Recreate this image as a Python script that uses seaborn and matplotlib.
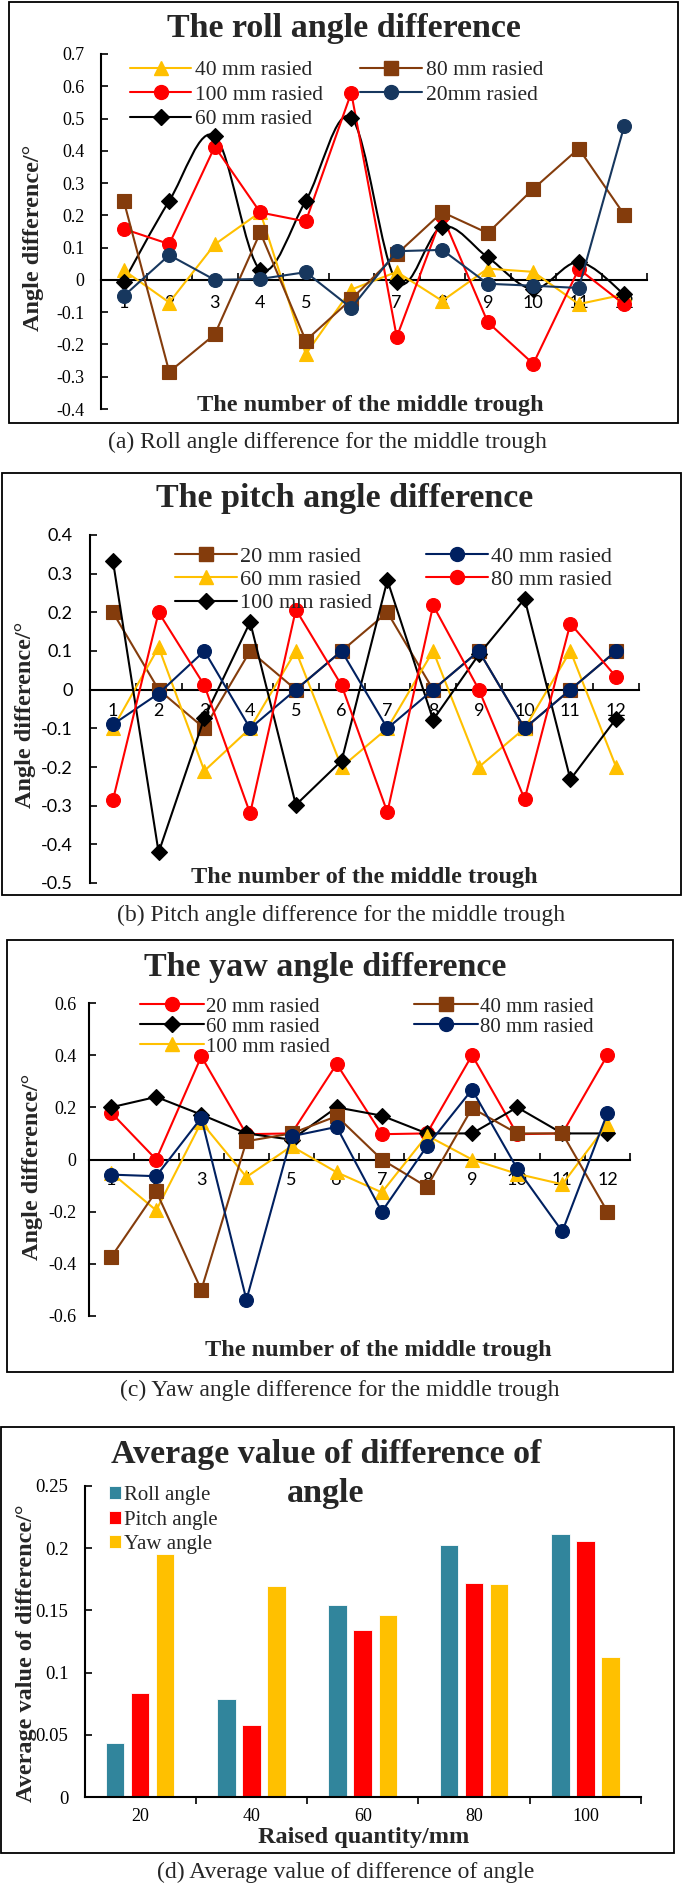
import numpy as np
import pandas as pd
import matplotlib
matplotlib.use("Agg")
import matplotlib.pyplot as plt
from matplotlib.patches import Rectangle, PathPatch
from matplotlib.path import Path
from matplotlib.lines import Line2D
import seaborn as sns

# ---------------- data ----------------
troughs = [1, 2, 3, 4, 5, 6, 7, 8, 9, 10, 11, 12]

# (a) roll angle difference
roll_40 = [0.03, -0.07, 0.11, 0.21, -0.23, -0.03, 0.025, -0.065, 0.035, 0.025, -0.075, -0.045]
roll_80 = [0.245, -0.285, -0.169, 0.147, -0.188, -0.06, 0.08, 0.21, 0.145, 0.282, 0.407, 0.202]
roll_100 = [0.158, 0.111, 0.413, 0.209, 0.181, 0.58, -0.177, 0.199, -0.131, -0.26, 0.034, -0.076]
roll_20 = [-0.05, 0.077, 0.0, 0.003, 0.024, -0.087, 0.089, 0.093, -0.012, -0.018, -0.025, 0.477]
roll_60 = [-0.005, 0.245, 0.446, 0.032, 0.245, 0.503, -0.005, 0.165, 0.07, -0.028, 0.055, -0.045]

# (b) pitch angle difference
pitch_20 = [0.2, 0.0, -0.1, 0.1, 0.0, 0.1, 0.2, 0.0, 0.1, -0.1, 0.0, 0.1]
pitch_40 = [-0.09, -0.01, 0.1, -0.1, 0.0, 0.1, -0.1, 0.0, 0.1, -0.1, 0.0, 0.1]
pitch_60 = [-0.1, 0.11, -0.21, -0.1, 0.1, -0.2, -0.1, 0.1, -0.2, -0.1, 0.1, -0.2]
pitch_80 = [-0.286, 0.2, 0.011, -0.32, 0.207, 0.011, -0.317, 0.218, 0.0, -0.283, 0.171, 0.033]
pitch_100 = [0.334, -0.421, -0.073, 0.175, -0.298, -0.184, 0.283, -0.078, 0.091, 0.235, -0.232, -0.075]

# (c) yaw angle difference
yaw_20 = [0.18, 0.0, 0.395, 0.097, 0.1, 0.366, 0.097, 0.1, 0.4, 0.097, 0.1, 0.4]
yaw_40 = [-0.375, -0.122, -0.5, 0.07, 0.1, 0.166, 0.0, -0.105, 0.197, 0.1, 0.1, -0.2]
yaw_60 = [0.2, 0.24, 0.172, 0.1, 0.076, 0.2, 0.168, 0.1, 0.1, 0.2, 0.1, 0.1]
yaw_80 = [-0.058, -0.064, 0.16, -0.538, 0.089, 0.125, -0.2, 0.051, 0.268, -0.035, -0.276, 0.178]
yaw_100 = [-0.05, -0.195, 0.143, -0.067, 0.051, -0.049, -0.126, 0.092, 0.0, -0.055, -0.095, 0.136]

# (d) average values
raised = ["20", "40", "60", "80", "100"]
avg_roll = [0.0431, 0.0785, 0.1545, 0.2027, 0.2115]
avg_pitch = [0.0835, 0.0582, 0.1345, 0.172, 0.206]
avg_yaw = [0.195, 0.170, 0.1465, 0.171, 0.1125]
angle_names = ["Roll angle", "Pitch angle", "Yaw angle"]

roll_ticks = [0.7, 0.6, 0.5, 0.4, 0.3, 0.2, 0.1, 0, -0.1, -0.2, -0.3, -0.4]
pitch_ticks = [0.4, 0.3, 0.2, 0.1, 0, -0.1, -0.2, -0.3, -0.4, -0.5]
yaw_ticks = [0.6, 0.4, 0.2, 0, -0.2, -0.4, -0.6]
avg_ticks = [0, 0.05, 0.1, 0.15, 0.2, 0.25]

# ---------------- style ----------------
YELLOW = "#FFC000"
BROWN = "#843C0C"
RED = "#FF0000"
NAVY = "#002060"
SLATE = "#17375E"
BLACK = "#000000"
TEAL = "#31859C"

sns.set_theme(style="white")
SERIF = ["Liberation Serif", "DejaVu Serif"]
SANS = ["Lato", "DejaVu Sans"]
plt.rcParams["font.family"] = SERIF
plt.rcParams["axes.axisbelow"] = True

TITLE_FS = 24.5
LABEL_FS = 17.5

W, H = 685, 1888
fig = plt.figure(figsize=(W / 100, H / 100), dpi=100)


def axes_px(left, top, right, bottom):
    return fig.add_axes([left / W, 1 - bottom / H, (right - left) / W, (bottom - top) / H])


def frame_px(x0, y0, x1, y1):
    fig.add_artist(Rectangle((x0 / W, 1 - y1 / H), (x1 - x0) / W, (y1 - y0) / H,
                             transform=fig.transFigure, fill=False, ec="black", lw=1.3))


def caption_px(cx, cy, text):
    fig.text(cx / W, 1 - cy / H, text, ha="center", va="center", family=SERIF, fontsize=17)


def fmt(v):
    v = round(v, 3) + 0.0
    return f"{v:g}"


def smooth_path(xs, ys):
    pts = np.column_stack([xs, ys]).astype(float)
    n = len(pts)
    verts = [pts[0]]
    codes = [Path.MOVETO]
    for i in range(n - 1):
        p0 = pts[max(i - 1, 0)]
        p1 = pts[i]
        p2 = pts[i + 1]
        p3 = pts[min(i + 2, n - 1)]
        verts += [p1 + (p2 - p0) / 6.0, p2 - (p3 - p1) / 6.0, p2]
        codes += [Path.CURVE4] * 3
    return Path(verts, codes)


def line_panel(ax, series, ylim, yticks, ypad, xpad, title, tx, ty,
               xl_xy, yl_xy, leg):
    lw = 1.5
    handles, labels = [], []
    for label, vals, color, marker, ms, smooth in series:
        sns.lineplot(x=troughs, y=vals, ax=ax, color=color, marker=marker,
                     markersize=ms, markeredgecolor=color, markeredgewidth=0.8,
                     linewidth=0 if smooth else lw, zorder=2)
        if smooth:
            ax.add_patch(PathPatch(smooth_path(troughs, vals), fill=False,
                                   edgecolor=color, lw=lw, zorder=1.9))
        handles.append(Line2D([0], [0], color=color, lw=lw, marker=marker,
                              markersize=ms, markeredgecolor=color))
        labels.append(label)
    ax.set_xlim(0.5, 12.5)
    ax.set_ylim(*ylim)
    for s in ("top", "right"):
        ax.spines[s].set_visible(False)
    ax.spines["bottom"].set_position(("data", 0))
    for s in ("left", "bottom"):
        ax.spines[s].set_color("black")
        ax.spines[s].set_linewidth(1.5)
        ax.spines[s].set_zorder(1)
    ax.set_xticks(troughs, labels=[str(t) for t in troughs], family=SANS, fontsize=13)
    ax.set_xticks(np.arange(0.5, 13.0, 1.0), minor=True)
    ax.tick_params(axis="x", which="major", length=0, pad=xpad, colors="black")
    ax.tick_params(axis="x", which="minor", direction="in", length=5, width=1.2,
                   color="black", bottom=True)
    ax.set_yticks(yticks, labels=[fmt(v) for v in yticks], family=leg["yfont"], fontsize=13)
    ax.tick_params(axis="y", which="major", direction="in", length=5, width=1.2,
                   pad=ypad, colors="black", left=True)
    ax.set_title(title, x=tx, y=ty, pad=0, fontsize=TITLE_FS, fontweight="bold",
                 family=SERIF, va="center", ha="center")
    ax.set_xlabel("The number of the middle trough", fontsize=LABEL_FS, fontweight="bold",
                  family=SERIF)
    ax.xaxis.set_label_coords(*xl_xy)
    ax.xaxis.label.set_va("center")
    ax.set_ylabel("Angle difference/°", fontsize=LABEL_FS, fontweight="bold", family=SERIF)
    ax.yaxis.set_label_coords(*yl_xy)
    ax.yaxis.label.set_va("center")
    ax.legend(handles, labels, ncol=2, loc="upper left", bbox_to_anchor=leg["anchor"],
              frameon=False, borderpad=0, borderaxespad=0,
              handlelength=leg["hl"], handletextpad=leg["htp"],
              columnspacing=leg["cs"], labelspacing=leg["ls"],
              prop={"family": SERIF, "size": leg["size"]})


# ---------------- (a) roll ----------------
frame_px(9, 2, 678, 423)
ax1 = axes_px(101, 54, 647, 409)
line_panel(
    ax1,
    [("40 mm rasied", roll_40, YELLOW, "^", 10, False),
     ("100 mm rasied", roll_100, RED, "o", 10, False),
     ("60 mm rasied", roll_60, BLACK, "D", 8, True),
     ("80 mm rasied", roll_80, BROWN, "s", 9.5, False),
     ("20mm rasied", roll_20, SLATE, "o", 10, False)],
    (-0.4, 0.7), roll_ticks, ypad=12, xpad=11,
    title="The roll angle difference", tx=0.445, ty=1.073,
    xl_xy=(0.493, 0.0085), yl_xy=(-0.1245, 0.483),
    leg={"anchor": (0.053, 0.982), "hl": 2.84, "htp": 0.2, "cs": 1.72, "ls": 0.2,
         "size": 15.5, "yfont": SERIF},
)
caption_px(327, 442, "(a) Roll angle difference for the middle trough")

# ---------------- (b) pitch ----------------
frame_px(2, 473, 681, 895)
ax2 = axes_px(90, 535, 639, 883)
line_panel(
    ax2,
    [("20 mm rasied", pitch_20, BROWN, "s", 9.5, False),
     ("60 mm rasied", pitch_60, YELLOW, "^", 10, False),
     ("100 mm rasied", pitch_100, BLACK, "D", 8, False),
     ("40 mm rasied", pitch_40, NAVY, "o", 10, False),
     ("80 mm rasied", pitch_80, RED, "o", 10, False)],
    (-0.5, 0.4), pitch_ticks, ypad=12.5, xpad=9.5,
    title="The pitch angle difference", tx=0.464, ty=1.106,
    xl_xy=(0.499, 0.017), yl_xy=(-0.117, 0.483),
    leg={"anchor": (0.155, 0.968), "hl": 2.8, "htp": 0.14, "cs": 2.4, "ls": 0.126,
         "size": 16, "yfont": SANS},
)
caption_px(341, 915, "(b) Pitch angle difference for the middle trough")

# ---------------- (c) yaw ----------------
frame_px(7, 940, 673, 1372)
ax3 = axes_px(88.5, 1003, 630, 1316)
line_panel(
    ax3,
    [("20 mm rasied", yaw_20, RED, "o", 10, False),
     ("60 mm rasied", yaw_60, BLACK, "D", 8, False),
     ("100 mm rasied", yaw_100, YELLOW, "^", 10, False),
     ("40 mm rasied", yaw_40, BROWN, "s", 9.5, False),
     ("80 mm rasied", yaw_80, NAVY, "o", 10, False)],
    (-0.6, 0.6), yaw_ticks, ypad=8.6, xpad=8.8,
    title="The yaw angle difference", tx=0.437, ty=1.115,
    xl_xy=(0.536, -0.109), yl_xy=(-0.1025, 0.476),
    leg={"anchor": (0.095, 1.0192), "hl": 3.08, "htp": 0.1, "cs": 4.0, "ls": 0.02,
         "size": 15, "yfont": SERIF},
)
caption_px(340, 1390, "(c) Yaw angle difference for the middle trough")

# ---------------- (d) averages ----------------
frame_px(1, 1427, 674, 1853)
ax4 = axes_px(84.5, 1486, 641, 1797)
df = pd.DataFrame({
    "Raised": raised * 3,
    "Value": avg_roll + avg_pitch + avg_yaw,
    "Angle": [angle_names[0]] * 5 + [angle_names[1]] * 5 + [angle_names[2]] * 5,
})
sns.barplot(data=df, x="Raised", y="Value", hue="Angle", palette=[TEAL, RED, YELLOW],
            width=0.675, gap=0.26, ax=ax4, edgecolor="white", linewidth=0.6,
            saturation=1, errorbar=None)
ax4.set_xlim(-0.5, 4.5)
ax4.set_ylim(0, 0.25)
for s in ("top", "right"):
    ax4.spines[s].set_visible(False)
for s in ("left", "bottom"):
    ax4.spines[s].set_color("black")
    ax4.spines[s].set_linewidth(1.5)
ax4.set_xticks(range(len(raised)), labels=raised, family=SERIF, fontsize=13)
ax4.set_xticks(np.arange(0.5, 5.0, 1.0), minor=True)
ax4.tick_params(axis="x", which="major", length=0, pad=8, colors="black")
ax4.tick_params(axis="x", which="minor", direction="out", length=5, width=1.2,
                color="black", bottom=True)
ax4.set_yticks(avg_ticks, labels=[fmt(v) for v in avg_ticks], family=SERIF, fontsize=13.5)
ax4.tick_params(axis="y", direction="in", length=5, width=1.2, pad=11.5,
                colors="black", left=True)
ax4.set_title("Average value of difference of", x=0.434, y=1.0997, pad=0,
              fontsize=TITLE_FS, fontweight="bold", family=SERIF, va="center", ha="center")
ax4.text(0.434, 0.977, "angle", transform=ax4.transAxes, fontsize=TITLE_FS,
         fontweight="bold", family=SERIF, va="center", ha="center")
ax4.set_xlabel("Raised quantity/mm", fontsize=LABEL_FS, fontweight="bold", family=SERIF)
ax4.xaxis.set_label_coords(0.502, -0.129)
ax4.xaxis.label.set_va("center")
ax4.set_ylabel("Average value of difference/°", fontsize=LABEL_FS, fontweight="bold",
               family=SERIF)
ax4.yaxis.set_label_coords(-0.105, 0.463)
ax4.yaxis.label.set_va("center")
h4, l4 = ax4.get_legend_handles_labels()
ax4.legend(h4, l4, loc="upper left", bbox_to_anchor=(0.044, 1.0), frameon=False,
           borderpad=0, borderaxespad=0, handlelength=0.58, handleheight=0.58,
           handletextpad=0.15, labelspacing=0.27, prop={"family": SERIF, "size": 15})
caption_px(346, 1872, "(d) Average value of difference of angle")

fig.savefig("out.png", dpi=100)
